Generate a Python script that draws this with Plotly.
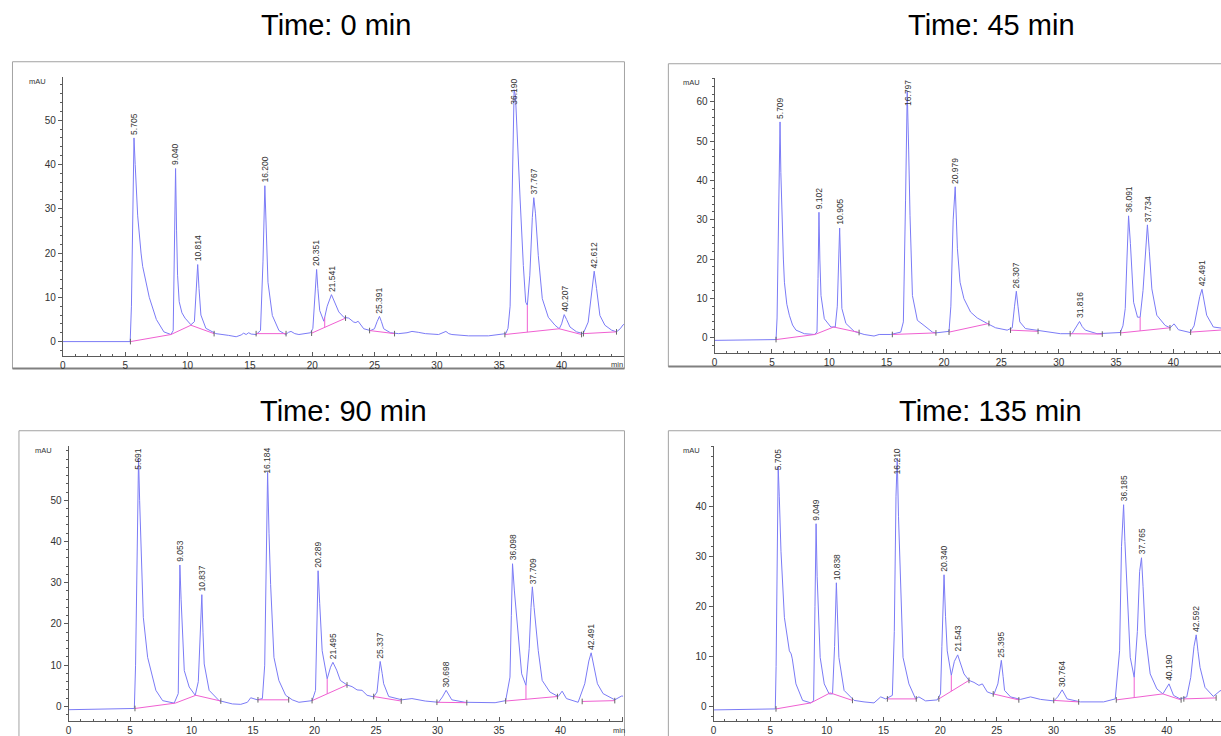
import numpy as np
import plotly.graph_objects as go

# ---------------- data ----------------
titles = ["Time: 0 min", "Time: 45 min", "Time: 90 min", "Time: 135 min"]
x_tick_values = [0, 5, 10, 15, 20, 25, 30, 35, 40, 45]
x_tick_labels = ["0", "5", "10", "15", "20", "25", "30", "35", "40", ""]

# ---- Time 0 min ----
t0_time = [0, 2, 5.40, 5.50, 5.62, 5.705, 5.80, 6.00, 6.27, 6.40, 6.93, 7.50, 8.10, 8.67,
           8.85, 8.95, 9.040, 9.12, 9.20, 9.33, 9.55, 9.80, 10.27, 10.55, 10.70, 10.814, 10.92,
           11.07, 11.47, 12.27, 13.30, 13.90, 14.30, 14.50, 14.70, 14.90, 15.10, 15.50, 15.85,
           16.05, 16.200, 16.32, 16.45, 16.80, 17.33, 17.87, 18.10, 18.30, 18.60, 18.93, 19.87,
           20.05, 20.20, 20.351, 20.45, 20.60, 20.93, 21.20, 21.541, 21.80, 22.13, 22.53, 22.93,
           23.33, 23.50, 23.68, 24.13, 24.67, 24.99, 25.20, 25.391, 25.55, 25.73, 26.27, 26.93,
           27.60, 28.00, 28.50, 29.07, 30.13, 30.50, 30.72, 30.95, 31.20, 32.53, 34.13, 35.52,
           35.70, 35.87, 36.00, 36.12, 36.190, 36.30, 36.45, 36.67, 36.93, 37.12, 37.25, 37.45,
           37.65, 37.767, 37.90, 38.13, 38.45, 38.93, 39.47, 39.81, 40.00, 40.207, 40.40, 40.67,
           41.20, 41.73, 42.13, 42.40, 42.612, 42.80, 43.07, 43.47, 44.00, 44.40, 44.70, 44.93, 45.0]
t0_signal = [0, 0, 0.0, 8, 38, 46.0, 40, 28.4, 20, 17, 10, 5, 2.2, 1.6,
             2.5, 20, 39.1, 25, 15, 9, 6.5, 5.3, 3.8, 4.5, 12, 17.4, 12,
             6, 3, 1.8, 1.4, 1.1, 1.5, 1.9, 1.6, 2.0, 1.7, 1.6, 2.5,
             18, 35.2, 22, 13.4, 5.9, 2.5, 1.6, 2.1, 2.3, 1.8, 1.6, 2.0,
             3.0, 10, 16.3, 12, 7, 4.6, 8, 10.6, 9, 6.7, 5.5, 5.3,
             4.4, 4.3, 4.6, 2.9, 2.5, 2.9, 4.5, 5.7, 4.5, 2.9, 2.0, 1.8,
             2.0, 2.3, 2.1, 1.8, 1.6, 2.0, 2.3, 1.8, 1.6, 1.3, 1.3, 1.8,
             3, 8, 30, 55, 56.9, 55.5, 45, 32.2, 17.2, 8.9, 8.2, 15,
             28, 32.5, 29, 19.4, 9.7, 5.5, 3.7, 2.9, 4, 6.1, 5, 3.3,
             2.2, 1.8, 4.4, 11, 15.9, 12, 5.9, 3.7, 2.6, 2.2, 2.9, 3.8, 3.9]
t0_peaks = ["5.705", "9.040", "10.814", "16.200", "20.351", "21.541", "25.391",
            "36.190", "37.767", "40.207", "42.612"]
t0_baselines = [[(5.42, 0.0), (8.67, 1.6), (10.27, 3.7), (12.13, 1.8)],
                [(15.5, 1.8), (17.9, 1.8)],
                [(19.95, 1.9), (22.67, 5.3)],
                [(24.6, 2.5), (26.6, 1.8)],
                [(35.45, 1.6), (39.81, 2.9), (41.6, 1.6)],
                [(41.75, 1.8), (44.4, 2.2)]]
t0_drops = [21.0, 37.25]
t0_y_labels = [0, 10, 20, 30, 40, 50]

# ---- Time 45 min ----
t45_time = [0, 3, 5.36, 5.45, 5.60, 5.709, 5.78, 5.86, 6.00, 6.09, 6.30, 6.52, 6.80, 7.10,
            7.83, 8.70, 8.93, 9.02, 9.102, 9.18, 9.28, 9.57, 10.14, 10.52, 10.70, 10.905, 10.98,
            11.10, 11.45, 12.17, 13.04, 13.90, 14.35, 15.36, 16.23, 16.46, 16.65, 16.797, 16.92,
            17.04, 17.25, 17.68, 18.26, 18.99, 19.28, 20.44, 20.60, 20.80, 20.979, 21.05, 21.17,
            21.40, 21.74, 22.32, 22.90, 23.77, 24.06, 24.50, 25.51, 25.95, 26.15, 26.307, 26.45,
            26.61, 27.10, 28.12, 28.99, 30.15, 31.16, 31.50, 31.816, 32.05, 32.32, 33.34, 35.37,
            35.60, 35.80, 35.95, 36.091, 36.25, 36.53, 36.87, 37.10, 37.35, 37.60, 37.734, 37.90,
            38.12, 38.55, 39.28, 39.71, 40.06, 40.44, 41.45, 41.80, 42.03, 42.30, 42.491, 42.65,
            42.90, 43.48, 44.15, 44.5]
t45_signal = [-0.7, -0.6, -0.5, 5, 40, 54.9, 42, 31, 20, 14.1, 8.5, 5.7, 3.2, 1.9,
              1.0, 0.8, 1.4, 15, 31.9, 20, 10.7, 4.8, 2.7, 2.7, 8, 27.9, 18,
              7.4, 3.6, 1.6, 0.8, 0.4, 0.8, 0.8, 1.4, 4.0, 35, 62.7, 48,
              31, 10.7, 4.4, 3.1, 1.4, 1.2, 1.6, 8, 30, 38.4, 32, 22.6,
              14.1, 9.9, 6.5, 5.0, 3.6, 3.1, 2.5, 1.9, 2.5, 8, 11.8, 8,
              4.0, 2.3, 1.9, 1.6, 1.0, 1.0, 2.5, 4.1, 2.8, 1.9, 1.0, 1.3,
              3, 7.4, 20, 31.0, 24, 9.0, 5.2, 5.2, 12, 25, 28.7, 22,
              12.4, 5.7, 3.1, 2.5, 3.5, 2.0, 1.3, 3, 6.5, 10.5, 12.3, 10,
              5.7, 2.7, 2.3, 2.3]
t45_peaks = ["5.709", "9.102", "10.905", "16.797", "20.979", "26.307", "31.816",
             "36.091", "37.734", "42.491"]
t45_baselines = [[(5.36, -0.5), (8.75, 0.8), (10.38, 2.7), (12.6, 1.3)],
                 [(15.5, 0.8), (19.3, 1.2)],
                 [(20.44, 1.4), (23.92, 3.6)],
                 [(25.8, 1.9), (28.2, 1.6)],
                 [(31.0, 1.0), (33.8, 0.9)],
                 [(35.4, 1.2), (39.7, 2.5)],
                 [(41.5, 1.4), (44.5, 2.0)]]
t45_drops = [37.1]
t45_y_labels = [0, 10, 20, 30, 40, 50, 60]

# ---- Time 90 min ----
t90_time = [0, 3, 5.35, 5.45, 5.60, 5.691, 5.78, 5.89, 6.08, 6.43, 6.84, 7.10, 7.65, 8.59,
            8.92, 9.00, 9.053, 9.15, 9.27, 9.41, 9.81, 10.30, 10.55, 10.75, 10.837, 10.93, 11.03,
            11.43, 12.24, 13.32, 14.00, 14.54, 14.81, 15.35, 15.76, 15.95, 16.10, 16.184, 16.30,
            16.43, 16.70, 17.10, 17.65, 18.19, 18.73, 19.81, 20.08, 20.20, 20.289, 20.42, 20.62,
            21.03, 21.30, 21.495, 21.80, 22.10, 22.64, 23.05, 23.46, 23.86, 24.27, 24.81, 25.08,
            25.25, 25.337, 25.50, 25.62, 26.03, 27.10, 27.92, 29.00, 30.08, 30.40, 30.698, 30.95,
            31.16, 32.24, 34.68, 35.54, 35.89, 36.00, 36.098, 36.25, 36.51, 36.84, 37.19, 37.45,
            37.60, 37.709, 37.85, 38.19, 38.51, 39.13, 39.81, 40.13, 40.48, 41.43, 41.97, 42.30,
            42.491, 42.70, 43.00, 43.46, 44.41, 44.95, 45.1]
t90_signal = [-0.8, -0.7, -0.5, 10, 50, 60.2, 50, 37.7, 21.6, 11.9, 7.1, 3.9, 1.4, 0.8,
              3.1, 20, 34.3, 26, 17.6, 8.7, 4.7, 2.7, 6, 22, 27.1, 18, 10.3,
              3.9, 1.4, 0.6, 0.5, 1.0, 2.1, 1.6, 1.9, 10, 45, 56.8, 42,
              29.6, 11.9, 6.3, 2.7, 1.6, 1.0, 1.4, 3.9, 20, 32.9, 25, 13.5,
              6.7, 9.5, 10.7, 8.8, 6.3, 5.2, 4.8, 4.0, 3.9, 2.7, 2.3, 3.5,
              8.5, 10.9, 8, 5.5, 2.4, 1.6, 1.9, 1.3, 1.0, 2.3, 3.9, 2.6,
              1.6, 1.0, 0.9, 1.4, 7.1, 22, 34.6, 28, 18.4, 7.9, 5.1, 14,
              24, 29.0, 24, 13.5, 6.3, 3.5, 2.4, 3.7, 1.9, 1.0, 5.5, 11,
              13.0, 10, 5.5, 3.1, 1.6, 2.5, 2.5]
t90_peaks = ["5.691", "9.053", "10.837", "16.184", "20.289", "21.495", "25.337",
             "30.698", "36.098", "37.709", "42.491"]
t90_baselines = [[(5.4, -0.5), (8.68, 0.8), (10.35, 2.7), (12.38, 1.3)],
                 [(15.4, 1.6), (17.9, 1.6)],
                 [(19.8, 1.4), (22.64, 5.2)],
                 [(24.81, 2.4), (27.05, 1.3)],
                 [(29.95, 1.0), (32.38, 0.9)],
                 [(35.54, 1.3), (39.75, 2.4)],
                 [(41.76, 1.2), (44.41, 1.4)]]
t90_drops = [21.03, 37.19]
t90_y_labels = [0, 10, 20, 30, 40, 50]

# ---- Time 135 min ----
t135_time = [0, 3, 5.45, 5.52, 5.62, 5.705, 5.80, 5.95, 6.25, 6.69, 6.85, 6.95, 7.27, 7.86,
             8.59, 8.83, 8.95, 9.049, 9.14, 9.24, 9.41, 9.77, 10.20, 10.50, 10.68, 10.838, 10.93,
             11.06, 11.52, 12.40, 13.28, 14.16, 14.75, 15.19, 15.78, 15.95, 16.10, 16.210, 16.32,
             16.45, 16.72, 17.24, 17.83, 18.12, 18.71, 19.74, 20.03, 20.15, 20.340, 20.47, 20.62,
             20.98, 21.25, 21.543, 21.80, 22.10, 22.54, 22.98, 23.42, 23.72, 24.15, 24.74, 25.09,
             25.395, 25.55, 25.68, 26.21, 27.09, 27.97, 28.85, 30.02, 30.37, 30.764, 31.00, 31.20,
             32.37, 34.42, 35.45, 35.83, 36.00, 36.185, 36.30, 36.48, 36.77, 37.12, 37.40, 37.60,
             37.765, 37.90, 38.10, 38.53, 39.12, 39.65, 40.190, 40.59, 41.17, 41.76, 42.11, 42.40,
             42.592, 42.75, 42.93, 43.37, 44.10, 44.69, 44.8]
t135_signal = [-0.7, -0.6, -0.5, 8, 35, 47.9, 42, 31.0, 17.8, 11.1, 10.5, 9.5, 4.5, 1.2,
               0.7, 1.2, 20, 36.5, 26, 19.1, 9.8, 4.5, 2.5, 2.5, 12, 24.7, 16,
               9.8, 3.2, 1.2, 0.9, 0.7, 1.9, 1.5, 2.2, 15, 42, 49.6, 38,
               27.7, 9.8, 4.5, 1.5, 1.9, 1.1, 1.3, 2.5, 12, 26.3, 18, 11.1,
               6.2, 9, 10.3, 8.5, 6.5, 5.2, 4.8, 4.2, 4.5, 2.9, 2.4, 4.5,
               9.2, 6, 3.2, 1.9, 1.4, 1.9, 1.4, 1.1, 1.9, 3.3, 2.4, 1.5,
               0.9, 0.9, 1.5, 11.1, 32, 40.3, 33, 24.4, 9.8, 5.8, 15, 27,
               29.7, 24, 14.5, 6.5, 3.5, 2.5, 4.5, 2.2, 1.5, 1.9, 5.8, 12,
               14.3, 11, 7.8, 3.8, 2.0, 3.1, 3.2]
t135_peaks = ["5.705", "9.049", "10.838", "16.210", "20.340", "21.543", "25.395",
              "30.764", "36.185", "37.765", "40.190", "42.592"]
t135_baselines = [[(5.51, -0.5), (8.59, 0.7), (10.29, 2.7), (12.26, 1.2)],
                  [(15.34, 1.5), (17.89, 1.5)],
                  [(19.88, 1.5), (22.54, 5.2)],
                  [(24.68, 2.5), (26.94, 1.3)],
                  [(30.02, 1.2), (32.22, 0.9)],
                  [(35.54, 1.3), (39.65, 2.5), (41.26, 1.3)],
                  [(41.5, 1.5), (44.35, 1.7)]]
t135_drops = [20.98, 37.12]
t135_y_labels = [0, 10, 20, 30, 40]

# ---------------- styling / geometry (pixels of the 1221x736 page) ----------------
W, H = 1221, 736
FONT = "Arial, Liberation Sans, sans-serif"
BLUE = "#7b7bf6"
PINK = "#f060d2"
AXIS = "#5a5a5a"
FRAME = "#a3a3a3"

panels = [
    dict(time=t0_time, sig=t0_signal, peaks=t0_peaks, base=t0_baselines, drops=t0_drops,
         ylab=t0_y_labels,
         x0=60, ppm=12.5, xr=622.5, y0=343, ppu=4.446, top=77, bottom=357,
         frame=(9.5, 62, 623, 370), title=(334, 25), mau=(35, 82), minlab=(616, 366)),
    dict(time=t45_time, sig=t45_signal, peaks=t45_peaks, base=t45_baselines, drops=t45_drops,
         ylab=t45_y_labels,
         x0=713.3, ppm=11.5, xr=1221, y0=339, ppu=3.945, top=78, bottom=354,
         frame=(667, 64, 1230, 368), title=(991, 25), mau=(690, 83), minlab=None),
    dict(time=t90_time, sig=t90_signal, peaks=t90_peaks, base=t90_baselines, drops=t90_drops,
         ylab=t90_y_labels,
         x0=65.7, ppm=12.33, xr=621.7, y0=709.3, ppu=4.14, top=448, bottom=724,
         frame=(16, 432.5, 623, 745), title=(341, 413), mau=(41, 452), minlab=(618, 733)),
    dict(time=t135_time, sig=t135_signal, peaks=t135_peaks, base=t135_baselines, drops=t135_drops,
         ylab=t135_y_labels,
         x0=712.3, ppm=11.36, xr=1221, y0=709.3, ppu=5.025, top=448, bottom=724,
         frame=(667, 432.5, 1230, 745), title=(990, 413), mau=(690, 452), minlab=None),
]

fig = go.Figure()
layout = dict(width=W, height=H, autosize=False, margin=dict(l=0, r=0, t=0, b=0, pad=0),
              paper_bgcolor="white", plot_bgcolor="white", showlegend=False)
annotations = []
shapes = []


def px(xp):
    return xp / W


def py(yp):
    return 1 - yp / H


for i, p in enumerate(panels):
    n = "" if i == 0 else str(i + 1)
    xa, ya = "x" + n, "y" + n
    xmax = (p["xr"] - p["x0"]) / p["ppm"]
    ymin = -(p["bottom"] - p["y0"]) / p["ppu"]
    ymax = (p["y0"] - p["top"]) / p["ppu"]

    layout["xaxis" + n] = dict(
        domain=[px(p["x0"]), px(p["xr"])], range=[0, xmax], anchor=ya,
        showline=True, linecolor=AXIS, linewidth=1, mirror=False,
        ticks="inside", ticklen=4, tickcolor=AXIS, tickwidth=1,
        tickmode="array", tickvals=x_tick_values, ticktext=x_tick_labels,
        minor=dict(ticks="inside", ticklen=2, tickcolor=AXIS, tickmode="linear",
                   dtick=1, tick0=0, showgrid=False),
        showgrid=False, zeroline=False, fixedrange=True,
        tickfont=dict(family=FONT, size=10, color="#333333"))
    layout["yaxis" + n] = dict(
        domain=[py(p["bottom"]), py(p["top"])], range=[ymin, ymax], anchor=xa,
        showline=True, linecolor=AXIS, linewidth=1,
        ticks="outside", ticklen=4, tickcolor=AXIS, tickwidth=1,
        tickmode="array", tickvals=p["ylab"], ticktext=[str(v) for v in p["ylab"]],
        minor=dict(ticks="outside", ticklen=2, tickcolor=AXIS, tickmode="linear",
                   dtick=2, tick0=0, showgrid=False),
        showgrid=False, zeroline=False, fixedrange=True,
        tickfont=dict(family=FONT, size=10, color="#333333"))

    t = np.array(p["time"], dtype=float)
    s = np.array(p["sig"], dtype=float)

    # chromatogram
    fig.add_trace(go.Scatter(x=t, y=s, mode="lines", line=dict(color=BLUE, width=1),
                             xaxis=xa, yaxis=ya, hoverinfo="skip"))

    # integration baselines + drop lines
    bx, by, ex, ey = [], [], [], []
    for seg in p["base"]:
        for (tt, vv) in seg:
            bx.append(tt)
            by.append(vv)
        bx.append(None)
        by.append(None)
        ex += [seg[0][0], seg[-1][0]]
        ey += [seg[0][1], seg[-1][1]]
    for d in p["drops"]:
        for seg in p["base"]:
            st = [q[0] for q in seg]
            if st[0] <= d <= st[-1]:
                bv = float(np.interp(d, st, [q[1] for q in seg]))
                bx += [d, d, None]
                by += [bv, float(np.interp(d, t, s)), None]
    fig.add_trace(go.Scatter(x=bx, y=by, mode="lines", line=dict(color=PINK, width=1),
                             xaxis=xa, yaxis=ya, hoverinfo="skip", connectgaps=False))
    fig.add_trace(go.Scatter(x=ex, y=ey, mode="markers",
                             marker=dict(symbol="line-ns", size=4,
                                         line=dict(color="#666666", width=1)),
                             xaxis=xa, yaxis=ya, hoverinfo="skip"))

    # peak labels
    lab_len = 30  # px
    for lab in p["peaks"]:
        rt = float(lab)
        apex = float(np.interp(rt, t, s))
        if apex + (lab_len + 2) / p["ppu"] > ymax:
            annotations.append(dict(x=rt, y=ymax, xref=xa, yref=ya, text=lab, textangle=-90,
                                    showarrow=False, xanchor="center", yanchor="top",
                                    font=dict(family=FONT, size=8.5, color="#333333")))
        else:
            annotations.append(dict(x=rt, y=apex, xref=xa, yref=ya, text=lab, textangle=-90,
                                    showarrow=False, xanchor="center", yanchor="bottom", yshift=1,
                                    font=dict(family=FONT, size=8.5, color="#333333")))

    # frame
    fx0, fy0, fx1, fy1 = p["frame"]
    shapes.append(dict(type="rect", xref="paper", yref="paper", x0=px(fx0), x1=px(fx1),
                       y0=py(fy1), y1=py(fy0), line=dict(color=FRAME, width=1), layer="below"))
    shapes.append(dict(type="line", xref="paper", yref="paper", x0=px(fx0), x1=px(fx1),
                       y0=py(fy1), y1=py(fy1), line=dict(color="#808080", width=2), layer="below"))

    # title
    annotations.append(dict(x=px(p["title"][0]), y=py(p["title"][1]), xref="paper", yref="paper",
                            text=titles[i], showarrow=False, xanchor="center", yanchor="middle",
                            font=dict(family=FONT, size=29, color="#000000")))
    # mAU label
    annotations.append(dict(x=px(p["mau"][0]), y=py(p["mau"][1]), xref="paper", yref="paper",
                            text="mAU", showarrow=False, xanchor="center", yanchor="middle",
                            font=dict(family=FONT, size=7.5, color="#333333")))
    if p["minlab"]:
        annotations.append(dict(x=px(p["minlab"][0]), y=py(p["minlab"][1]), xref="paper",
                                yref="paper", text="min", showarrow=False, xanchor="center",
                                yanchor="middle",
                                font=dict(family=FONT, size=7.5, color="#333333")))

layout["annotations"] = annotations
layout["shapes"] = shapes
fig.update_layout(**layout)

fig.write_html("out.html", config={"displayModeBar": False},
               post_script="document.body.style.margin='0';document.body.style.overflow='hidden';")
